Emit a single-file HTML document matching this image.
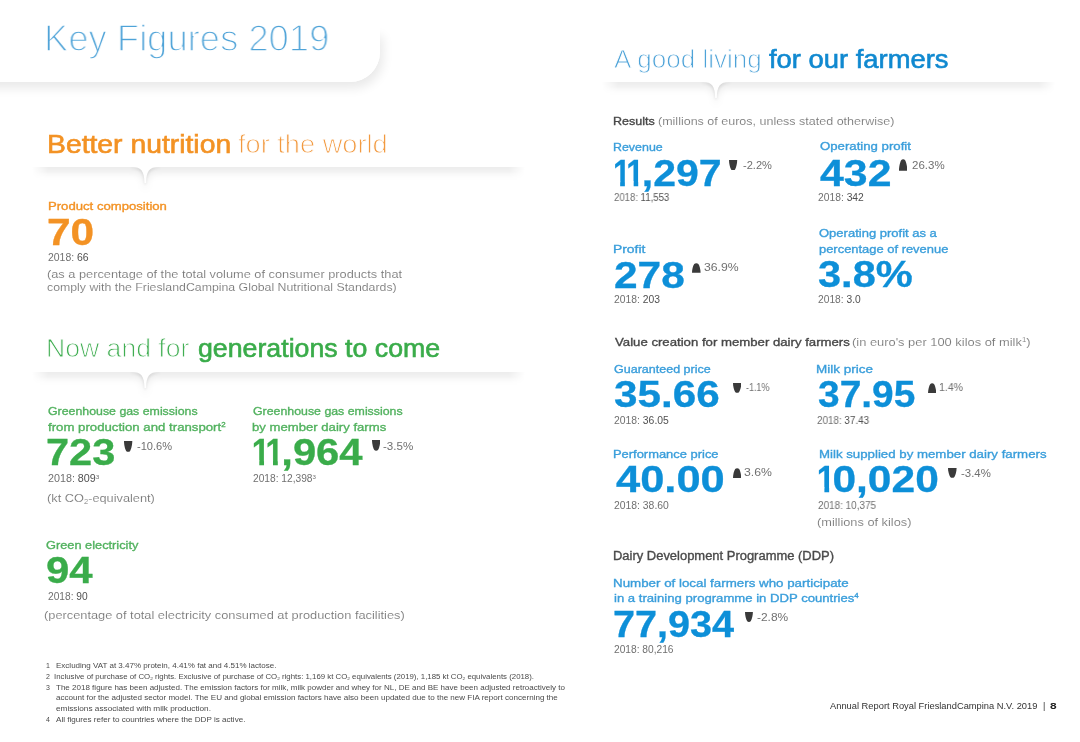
<!DOCTYPE html>
<html><head><meta charset="utf-8"><style>
html,body{margin:0;padding:0;background:#fff;}
body{width:1080px;height:742px;position:relative;overflow:hidden;font-family:"Liberation Sans",sans-serif;}
.t{position:absolute;white-space:nowrap;line-height:1;transform-origin:0 0;z-index:3;will-change:transform;}
.t sup{font-size:0.6em;vertical-align:0;position:relative;top:-0.55em;}
.t sub{font-size:0.6em;vertical-align:0;position:relative;top:0.3em;}
.pv{color:#505050;}
.title{-webkit-text-stroke:1.5px #fff;}
.hl{-webkit-text-stroke:0.9px #fff;}
.light{-webkit-text-stroke:0.12px #fff;}
.hb{font-weight:400!important;-webkit-text-stroke:0.6px currentColor;}
.one{display:inline-block;clip-path:polygon(0 0,0.375em 0,0.375em 100%,0.228em 100%,0.228em 0.69em,0 0.69em);transform:scaleX(0.78);transform-origin:0 0;margin-left:-0.033em;margin-right:-0.185em;}
.num{-webkit-text-stroke:0.3px currentColor;}
.lab{font-weight:400!important;-webkit-text-stroke:0.35px currentColor;}
.ar{position:absolute;z-index:3;}
.div{position:absolute;z-index:1;overflow:visible;}
.card{position:absolute;left:-40px;top:-40px;width:420px;height:122px;background:#fff;border-bottom-right-radius:30px;z-index:2;}
.cardsh{position:absolute;left:-40px;top:30px;width:420px;height:52px;background:#fff;border-bottom-right-radius:30px;box-shadow:3px 6px 11px rgba(0,0,0,0.09);z-index:1;}
</style></head><body>
<div class="cardsh"></div><div class="card"></div>
<svg class="div" style="left:22px;top:147px;width:513px;height:50px" viewBox="0 0 513 50">
<defs>
<linearGradient id="hf1" x1="0" x2="1"><stop offset="0.0195" stop-color="#fff" stop-opacity="0"/><stop offset="0.0507" stop-color="#fff" stop-opacity="1"/><stop offset="0.9493" stop-color="#fff" stop-opacity="1"/><stop offset="0.9805" stop-color="#fff" stop-opacity="0"/></linearGradient>
<mask id="m1"><rect x="0" y="0" width="513" height="50" fill="url(#hf1)"/></mask>
<filter id="f1" x="-10%" y="-100%" width="120%" height="300%"><feGaussianBlur stdDeviation="3.5"/></filter>
<filter id="g1" x="-10%" y="-100%" width="120%" height="300%"><feGaussianBlur stdDeviation="1.6"/></filter>
<radialGradient id="rg1" cx="123.30000000000001" cy="26" r="18" gradientUnits="userSpaceOnUse"><stop offset="0.4" stop-color="#fff"/><stop offset="1" stop-color="#000"/></radialGradient>
<mask id="mn1"><rect x="0" y="0" width="513" height="50" fill="url(#rg1)"/></mask>
</defs>
<g mask="url(#m1)">
<path d="M-50,-50 L563,-50 L563,20 L136.3,20 C127.30000000000001,20 124.30000000000001,24 124.10000000000001,36 L122.50000000000001,36 C122.30000000000001,24 119.30000000000001,20 110.30000000000001,20 L-50,20 Z" transform="translate(0,6)" fill="#000" fill-opacity="0.075" filter="url(#f1)"/>
<path d="M-50,-50 L563,-50 L563,20 L136.3,20 C127.30000000000001,20 124.30000000000001,24 124.10000000000001,36 L122.50000000000001,36 C122.30000000000001,24 119.30000000000001,20 110.30000000000001,20 L-50,20 Z" transform="translate(0,2)" fill="#000" fill-opacity="0.10" filter="url(#g1)" mask="url(#mn1)"/>
<path d="M-50,-50 L563,-50 L563,20 L136.3,20 C127.30000000000001,20 124.30000000000001,24 124.10000000000001,36 L122.50000000000001,36 C122.30000000000001,24 119.30000000000001,20 110.30000000000001,20 L-50,20 Z" fill="#fff"/>
</g>
</svg>
<svg class="div" style="left:22px;top:352px;width:513px;height:50px" viewBox="0 0 513 50">
<defs>
<linearGradient id="hf2" x1="0" x2="1"><stop offset="0.0195" stop-color="#fff" stop-opacity="0"/><stop offset="0.0507" stop-color="#fff" stop-opacity="1"/><stop offset="0.9493" stop-color="#fff" stop-opacity="1"/><stop offset="0.9805" stop-color="#fff" stop-opacity="0"/></linearGradient>
<mask id="m2"><rect x="0" y="0" width="513" height="50" fill="url(#hf2)"/></mask>
<filter id="f2" x="-10%" y="-100%" width="120%" height="300%"><feGaussianBlur stdDeviation="3.5"/></filter>
<filter id="g2" x="-10%" y="-100%" width="120%" height="300%"><feGaussianBlur stdDeviation="1.6"/></filter>
<radialGradient id="rg2" cx="123.30000000000001" cy="26" r="18" gradientUnits="userSpaceOnUse"><stop offset="0.4" stop-color="#fff"/><stop offset="1" stop-color="#000"/></radialGradient>
<mask id="mn2"><rect x="0" y="0" width="513" height="50" fill="url(#rg2)"/></mask>
</defs>
<g mask="url(#m2)">
<path d="M-50,-50 L563,-50 L563,20 L136.3,20 C127.30000000000001,20 124.30000000000001,24 124.10000000000001,36 L122.50000000000001,36 C122.30000000000001,24 119.30000000000001,20 110.30000000000001,20 L-50,20 Z" transform="translate(0,6)" fill="#000" fill-opacity="0.075" filter="url(#f2)"/>
<path d="M-50,-50 L563,-50 L563,20 L136.3,20 C127.30000000000001,20 124.30000000000001,24 124.10000000000001,36 L122.50000000000001,36 C122.30000000000001,24 119.30000000000001,20 110.30000000000001,20 L-50,20 Z" transform="translate(0,2)" fill="#000" fill-opacity="0.10" filter="url(#g2)" mask="url(#mn2)"/>
<path d="M-50,-50 L563,-50 L563,20 L136.3,20 C127.30000000000001,20 124.30000000000001,24 124.10000000000001,36 L122.50000000000001,36 C122.30000000000001,24 119.30000000000001,20 110.30000000000001,20 L-50,20 Z" fill="#fff"/>
</g>
</svg>
<svg class="div" style="left:592px;top:61.5px;width:473px;height:50px" viewBox="0 0 473 50">
<defs>
<linearGradient id="hf3" x1="0" x2="1"><stop offset="0.0211" stop-color="#fff" stop-opacity="0"/><stop offset="0.0550" stop-color="#fff" stop-opacity="1"/><stop offset="0.9450" stop-color="#fff" stop-opacity="1"/><stop offset="0.9789" stop-color="#fff" stop-opacity="0"/></linearGradient>
<mask id="m3"><rect x="0" y="0" width="473" height="50" fill="url(#hf3)"/></mask>
<filter id="f3" x="-10%" y="-100%" width="120%" height="300%"><feGaussianBlur stdDeviation="3.5"/></filter>
<filter id="g3" x="-10%" y="-100%" width="120%" height="300%"><feGaussianBlur stdDeviation="1.6"/></filter>
<radialGradient id="rg3" cx="124" cy="26.0" r="18" gradientUnits="userSpaceOnUse"><stop offset="0.4" stop-color="#fff"/><stop offset="1" stop-color="#000"/></radialGradient>
<mask id="mn3"><rect x="0" y="0" width="473" height="50" fill="url(#rg3)"/></mask>
</defs>
<g mask="url(#m3)">
<path d="M-50,-50 L523,-50 L523,20.0 L137,20.0 C128,20.0 125,24.0 124.8,36.0 L123.2,36.0 C123,24.0 120,20.0 111,20.0 L-50,20.0 Z" transform="translate(0,6)" fill="#000" fill-opacity="0.075" filter="url(#f3)"/>
<path d="M-50,-50 L523,-50 L523,20.0 L137,20.0 C128,20.0 125,24.0 124.8,36.0 L123.2,36.0 C123,24.0 120,20.0 111,20.0 L-50,20.0 Z" transform="translate(0,2)" fill="#000" fill-opacity="0.10" filter="url(#g3)" mask="url(#mn3)"/>
<path d="M-50,-50 L523,-50 L523,20.0 L137,20.0 C128,20.0 125,24.0 124.8,36.0 L123.2,36.0 C123,24.0 120,20.0 111,20.0 L-50,20.0 Z" fill="#fff"/>
</g>
</svg>
<svg class="ar" style="left:124.3px;top:440.6px;width:8.3px;height:11.1px" viewBox="0 0 10 13" preserveAspectRatio="none"><path d="M0,0 L10,0 C10,4 8.8,9.5 7.4,11.6 C6.4,13.1 3.6,13.1 2.6,11.6 C1.2,9.5 0,4 0,0 Z" fill="#3a3a3a"/></svg>
<svg class="ar" style="left:371.5px;top:440.0px;width:8.3px;height:11.0px" viewBox="0 0 10 13" preserveAspectRatio="none"><path d="M0,0 L10,0 C10,4 8.8,9.5 7.4,11.6 C6.4,13.1 3.6,13.1 2.6,11.6 C1.2,9.5 0,4 0,0 Z" fill="#3a3a3a"/></svg>
<svg class="ar" style="left:729.4px;top:159.5px;width:8.2px;height:10.7px" viewBox="0 0 10 13" preserveAspectRatio="none"><path d="M0,0 L10,0 C10,4 8.8,9.5 7.4,11.6 C6.4,13.1 3.6,13.1 2.6,11.6 C1.2,9.5 0,4 0,0 Z" fill="#3a3a3a"/></svg>
<svg class="ar" style="left:899.2px;top:159.3px;width:8.3px;height:11.7px" viewBox="0 0 10 13" preserveAspectRatio="none"><path d="M0,13 L10,13 C10,9 8.8,3.5 7.4,1.4 C6.4,-0.1 3.6,-0.1 2.6,1.4 C1.2,3.5 0,9 0,13 Z" fill="#3a3a3a"/></svg>
<svg class="ar" style="left:692.4px;top:263.4px;width:8.6px;height:9.8px" viewBox="0 0 10 13" preserveAspectRatio="none"><path d="M0,13 L10,13 C10,9 8.8,3.5 7.4,1.4 C6.4,-0.1 3.6,-0.1 2.6,1.4 C1.2,3.5 0,9 0,13 Z" fill="#3a3a3a"/></svg>
<svg class="ar" style="left:732.5px;top:383.0px;width:8.3px;height:10.0px" viewBox="0 0 10 13" preserveAspectRatio="none"><path d="M0,0 L10,0 C10,4 8.8,9.5 7.4,11.6 C6.4,13.1 3.6,13.1 2.6,11.6 C1.2,9.5 0,4 0,0 Z" fill="#3a3a3a"/></svg>
<svg class="ar" style="left:927.5px;top:382.5px;width:8.3px;height:10.8px" viewBox="0 0 10 13" preserveAspectRatio="none"><path d="M0,13 L10,13 C10,9 8.8,3.5 7.4,1.4 C6.4,-0.1 3.6,-0.1 2.6,1.4 C1.2,3.5 0,9 0,13 Z" fill="#3a3a3a"/></svg>
<svg class="ar" style="left:733.0px;top:468.0px;width:8.3px;height:10.3px" viewBox="0 0 10 13" preserveAspectRatio="none"><path d="M0,13 L10,13 C10,9 8.8,3.5 7.4,1.4 C6.4,-0.1 3.6,-0.1 2.6,1.4 C1.2,3.5 0,9 0,13 Z" fill="#3a3a3a"/></svg>
<svg class="ar" style="left:948.4px;top:468.2px;width:8.6px;height:10.0px" viewBox="0 0 10 13" preserveAspectRatio="none"><path d="M0,0 L10,0 C10,4 8.8,9.5 7.4,11.6 C6.4,13.1 3.6,13.1 2.6,11.6 C1.2,9.5 0,4 0,0 Z" fill="#3a3a3a"/></svg>
<svg class="ar" style="left:745.1px;top:612.4px;width:7.9px;height:10.1px" viewBox="0 0 10 13" preserveAspectRatio="none"><path d="M0,0 L10,0 C10,4 8.8,9.5 7.4,11.6 C6.4,13.1 3.6,13.1 2.6,11.6 C1.2,9.5 0,4 0,0 Z" fill="#3a3a3a"/></svg>
<div id="t0" class="t title" style="left:44.06px;top:20.30px;font-size:37px;font-weight:400;color:#4ea3d8;transform:scaleX(0.9838);">Key Figures 2019</div>
<div id="t1" class="t hb" style="left:46.78px;top:131.70px;font-size:25.5px;font-weight:700;color:#f39224;transform:scaleX(1.1104);">Better nutrition</div>
<div id="t2" class="t hl" style="left:237.80px;top:131.70px;font-size:25.5px;font-weight:400;color:#f29a40;transform:scaleX(1.0667);">for the world</div>
<div id="t3" class="t lab" style="left:47.72px;top:199.90px;font-size:11.6px;font-weight:700;color:#f39224;transform:scaleX(1.1320);">Product composition</div>
<div id="t4" class="t num" style="left:47.40px;top:214.90px;font-size:36.5px;font-weight:700;color:#f39224;transform:scaleX(1.1632);">70</div>
<div id="t5" class="t " style="left:48.00px;top:252.50px;font-size:10.2px;font-weight:400;color:#707070;transform:scaleX(1.0256);">2018: <span class="pv">66</span></div>
<div id="t6" class="t light" style="left:47.49px;top:269.20px;font-size:11px;font-weight:400;color:#767676;transform:scaleX(1.1613);">(as a percentage of the total volume of consumer products that</div>
<div id="t7" class="t light" style="left:47.44px;top:281.70px;font-size:11px;font-weight:400;color:#767676;transform:scaleX(1.1192);">comply with the FrieslandCampina Global Nutritional Standards)</div>
<div id="t8" class="t hl" style="left:46.05px;top:336.00px;font-size:25.5px;font-weight:400;color:#40ae52;transform:scaleX(1.0429);">Now and for</div>
<div id="t9" class="t hb" style="left:197.95px;top:336.00px;font-size:25.5px;font-weight:700;color:#3aac4a;transform:scaleX(1.0480);">generations to come</div>
<div id="t10" class="t lab" style="left:47.83px;top:405.00px;font-size:11.6px;font-weight:700;color:#52b25f;transform:scaleX(1.0650);">Greenhouse gas emissions</div>
<div id="t11" class="t lab" style="left:47.86px;top:421.00px;font-size:11.6px;font-weight:700;color:#52b25f;transform:scaleX(1.1385);">from production and transport<sup>2</sup></div>
<div id="t12" class="t num" style="left:46.43px;top:434.70px;font-size:36.5px;font-weight:700;color:#3aac4a;transform:scaleX(1.1390);">723</div>
<div id="t13" class="t " style="left:136.60px;top:440.90px;font-size:11px;font-weight:400;color:#707070;transform:scaleX(1.0059);">-10.6%</div>
<div id="t14" class="t " style="left:47.82px;top:473.70px;font-size:10.2px;font-weight:400;color:#707070;transform:scaleX(1.0542);">2018: <span class="pv">809</span><sup>3</sup></div>
<div id="t15" class="t light" style="left:46.70px;top:493.00px;font-size:11px;font-weight:400;color:#767676;transform:scaleX(1.1604);">(kt CO<sub>2</sub>-equivalent)</div>
<div id="t16" class="t lab" style="left:252.83px;top:405.00px;font-size:11.6px;font-weight:700;color:#52b25f;transform:scaleX(1.0650);">Greenhouse gas emissions</div>
<div id="t17" class="t lab" style="left:251.65px;top:421.00px;font-size:11.6px;font-weight:700;color:#52b25f;transform:scaleX(1.1322);">by member dairy farms</div>
<div id="t18" class="t num" style="left:252.50px;top:435.00px;font-size:36.5px;font-weight:700;color:#3aac4a;transform:scaleX(1.1442);"><span class="one">1</span><span class="one">1</span>,964</div>
<div id="t19" class="t " style="left:382.97px;top:440.90px;font-size:11px;font-weight:400;color:#707070;transform:scaleX(1.0536);">-3.5%</div>
<div id="t20" class="t " style="left:252.80px;top:473.70px;font-size:10.2px;font-weight:400;color:#707070;transform:scaleX(0.9937);">2018: 12,398<sup>3</sup></div>
<div id="t21" class="t lab" style="left:46.42px;top:539.20px;font-size:11.6px;font-weight:700;color:#52b25f;transform:scaleX(1.1024);">Green electricity</div>
<div id="t22" class="t num" style="left:46.07px;top:553.40px;font-size:36.5px;font-weight:700;color:#3aac4a;transform:scaleX(1.1475);">94</div>
<div id="t23" class="t " style="left:47.80px;top:592.00px;font-size:10.2px;font-weight:400;color:#707070;transform:scaleX(0.9897);">2018: <span class="pv">90</span></div>
<div id="t24" class="t light" style="left:43.97px;top:609.70px;font-size:11px;font-weight:400;color:#767676;transform:scaleX(1.1636);">(percentage of total electricity consumed at production facilities)</div>
<div id="t25" class="t fn" style="left:45.60px;top:662.10px;font-size:7px;font-weight:400;color:#4a4a4a;">1</div>
<div id="t26" class="t fn" style="left:55.64px;top:662.10px;font-size:7px;font-weight:400;color:#4a4a4a;transform:scaleX(1.1443);">Excluding VAT at 3.47% protein, 4.41% fat and 4.51% lactose.</div>
<div id="t27" class="t fn" style="left:45.60px;top:672.80px;font-size:7px;font-weight:400;color:#4a4a4a;">2</div>
<div id="t28" class="t fn" style="left:54.44px;top:672.80px;font-size:7px;font-weight:400;color:#4a4a4a;transform:scaleX(1.1182);">Inclusive of purchase of CO<sub>2</sub> rights. Exclusive of purchase of CO<sub>2</sub> rights: 1,169 kt CO<sub>2</sub> equivalents (2019), 1,185 kt CO<sub>2</sub> equivalents (2018).</div>
<div id="t29" class="t fn" style="left:45.60px;top:683.50px;font-size:7px;font-weight:400;color:#4a4a4a;">3</div>
<div id="t30" class="t fn" style="left:55.64px;top:683.50px;font-size:7px;font-weight:400;color:#4a4a4a;transform:scaleX(1.1457);">The 2018 figure has been adjusted. The emission factors for milk, milk powder and whey for NL, DE and BE have been adjusted retroactively to</div>
<div id="t31" class="t fn" style="left:55.65px;top:694.20px;font-size:7px;font-weight:400;color:#4a4a4a;transform:scaleX(1.1507);">account for the adjusted sector model. The EU and global emission factors have also been updated due to the new FIA report concerning the</div>
<div id="t32" class="t fn" style="left:55.65px;top:704.90px;font-size:7px;font-weight:400;color:#4a4a4a;transform:scaleX(1.1746);">emissions associated with milk production.</div>
<div id="t33" class="t fn" style="left:45.60px;top:715.60px;font-size:7px;font-weight:400;color:#4a4a4a;">4</div>
<div id="t34" class="t fn" style="left:55.65px;top:715.60px;font-size:7px;font-weight:400;color:#4a4a4a;transform:scaleX(1.1577);">All figures refer to countries where the DDP is active.</div>
<div id="t35" class="t hl" style="left:614.00px;top:46.00px;font-size:26px;font-weight:400;color:#4ea3d8;transform:scaleX(1.0021);">A good living</div>
<div id="t36" class="t hb" style="left:769.00px;top:46.00px;font-size:26px;font-weight:700;color:#1089d0;transform:scaleX(1.0529);">for our farmers</div>
<div id="t37" class="t lab" style="left:613.09px;top:114.60px;font-size:11.6px;font-weight:700;color:#484848;transform:scaleX(1.0811);">Results</div>
<div id="t38" class="t light" style="left:658.44px;top:115.60px;font-size:11px;font-weight:400;color:#767676;transform:scaleX(1.1369);">(millions of euros, unless stated otherwise)</div>
<div id="t39" class="t lab" style="left:613.10px;top:140.60px;font-size:11.6px;font-weight:700;color:#3a9edb;transform:scaleX(1.0711);">Revenue</div>
<div id="t40" class="t num" style="left:614.24px;top:155.70px;font-size:36.5px;font-weight:700;color:#0d8fd8;transform:scaleX(1.1234);"><span class="one">1</span><span class="one">1</span>,297</div>
<div id="t41" class="t " style="left:742.60px;top:159.70px;font-size:11px;font-weight:400;color:#707070;transform:scaleX(1.0071);">-2.2%</div>
<div id="t42" class="t " style="left:614.39px;top:193.00px;font-size:10.2px;font-weight:400;color:#707070;transform:scaleX(0.9397);">2018: <span class="pv">11,553</span></div>
<div id="t43" class="t lab" style="left:819.64px;top:140.20px;font-size:11.6px;font-weight:700;color:#3a9edb;transform:scaleX(1.1375);">Operating profit</div>
<div id="t44" class="t num" style="left:820.00px;top:155.70px;font-size:36.5px;font-weight:700;color:#0d8fd8;transform:scaleX(1.1733);">432</div>
<div id="t45" class="t " style="left:911.59px;top:159.90px;font-size:11px;font-weight:400;color:#707070;transform:scaleX(1.0452);">26.3%</div>
<div id="t46" class="t " style="left:817.99px;top:192.60px;font-size:10.2px;font-weight:400;color:#707070;transform:scaleX(1.0111);">2018: <span class="pv">342</span></div>
<div id="t47" class="t lab" style="left:612.93px;top:242.50px;font-size:11.6px;font-weight:700;color:#3a9edb;transform:scaleX(1.1962);">Profit</div>
<div id="t48" class="t num" style="left:614.19px;top:258.00px;font-size:36.5px;font-weight:700;color:#0d8fd8;transform:scaleX(1.1627);">278</div>
<div id="t49" class="t " style="left:703.89px;top:262.30px;font-size:11px;font-weight:400;color:#707070;transform:scaleX(1.1100);">36.9%</div>
<div id="t50" class="t " style="left:614.40px;top:295.40px;font-size:10.2px;font-weight:400;color:#707070;transform:scaleX(1.0133);">2018: <span class="pv">203</span></div>
<div id="t51" class="t lab" style="left:819.42px;top:227.00px;font-size:11.6px;font-weight:700;color:#3a9edb;transform:scaleX(1.1219);">Operating profit as a</div>
<div id="t52" class="t lab" style="left:819.42px;top:242.60px;font-size:11.6px;font-weight:700;color:#3a9edb;transform:scaleX(1.1147);">percentage of revenue</div>
<div id="t53" class="t num" style="left:818.01px;top:257.40px;font-size:36.5px;font-weight:700;color:#0d8fd8;transform:scaleX(1.1390);">3.8%</div>
<div id="t54" class="t " style="left:818.00px;top:295.30px;font-size:10.2px;font-weight:400;color:#707070;transform:scaleX(1.0048);">2018: <span class="pv">3.0</span></div>
<div id="t55" class="t lab" style="left:614.64px;top:336.00px;font-size:11.6px;font-weight:700;color:#484848;transform:scaleX(1.1364);">Value creation for member dairy farmers</div>
<div id="t56" class="t light" style="left:852.48px;top:337.00px;font-size:11px;font-weight:400;color:#767676;transform:scaleX(1.1702);">(in euro's per 100 kilos of milk<sup>1</sup>)</div>
<div id="t57" class="t lab" style="left:614.38px;top:363.00px;font-size:11.6px;font-weight:700;color:#3a9edb;transform:scaleX(1.0798);">Guaranteed price</div>
<div id="t58" class="t num" style="left:614.49px;top:377.00px;font-size:36.5px;font-weight:700;color:#0d8fd8;transform:scaleX(1.1573);">35.66</div>
<div id="t59" class="t " style="left:745.54px;top:382.30px;font-size:11px;font-weight:400;color:#707070;transform:scaleX(0.8107);">-1.1%</div>
<div id="t60" class="t " style="left:614.40px;top:415.70px;font-size:10.2px;font-weight:400;color:#707070;transform:scaleX(1.0185);">2018: <span class="pv">36.05</span></div>
<div id="t61" class="t lab" style="left:815.76px;top:363.00px;font-size:11.6px;font-weight:700;color:#3a9edb;transform:scaleX(1.1625);">Milk price</div>
<div id="t62" class="t num" style="left:817.55px;top:377.00px;font-size:36.5px;font-weight:700;color:#0d8fd8;transform:scaleX(1.0656);">37.95</div>
<div id="t63" class="t " style="left:939.04px;top:382.30px;font-size:11px;font-weight:400;color:#707070;transform:scaleX(0.9583);">1.4%</div>
<div id="t64" class="t " style="left:817.02px;top:415.70px;font-size:10.2px;font-weight:400;color:#707070;transform:scaleX(0.9667);">2018: <span class="pv">37.43</span></div>
<div id="t65" class="t lab" style="left:613.25px;top:448.00px;font-size:11.6px;font-weight:700;color:#3a9edb;transform:scaleX(1.1140);">Performance price</div>
<div id="t66" class="t num" style="left:615.66px;top:462.00px;font-size:36.5px;font-weight:700;color:#0d8fd8;transform:scaleX(1.1911);">40.00</div>
<div id="t67" class="t " style="left:743.89px;top:467.30px;font-size:11px;font-weight:400;color:#707070;transform:scaleX(1.1125);">3.6%</div>
<div id="t68" class="t " style="left:614.40px;top:500.70px;font-size:10.2px;font-weight:400;color:#707070;transform:scaleX(1.0185);">2018: 38.60</div>
<div id="t69" class="t lab" style="left:818.50px;top:448.00px;font-size:11.6px;font-weight:700;color:#3a9edb;transform:scaleX(1.1429);">Milk supplied by member dairy farmers</div>
<div id="t70" class="t num" style="left:818.19px;top:462.00px;font-size:36.5px;font-weight:700;color:#0d8fd8;transform:scaleX(1.1647);"><span class="one">1</span>0,020</div>
<div id="t71" class="t " style="left:961.19px;top:468.00px;font-size:11px;font-weight:400;color:#707070;transform:scaleX(1.0357);">-3.4%</div>
<div id="t72" class="t " style="left:818.01px;top:501.00px;font-size:10.2px;font-weight:400;color:#707070;transform:scaleX(0.9746);">2018: 10,375</div>
<div id="t73" class="t light" style="left:816.76px;top:517.10px;font-size:11px;font-weight:400;color:#767676;transform:scaleX(1.1612);">(millions of kilos)</div>
<div id="t74" class="t lab" style="left:613.13px;top:549.90px;font-size:12.3px;font-weight:400;color:#4a4a4a;transform:scaleX(1.0534);">Dairy Development Programme (DDP)</div>
<div id="t75" class="t lab" style="left:612.99px;top:577.10px;font-size:11.6px;font-weight:700;color:#3a9edb;transform:scaleX(1.1505);">Number of local farmers who participate</div>
<div id="t76" class="t lab" style="left:614.15px;top:592.30px;font-size:11.6px;font-weight:700;color:#3a9edb;transform:scaleX(1.1315);">in a training programme in DDP countries<sup>4</sup></div>
<div id="t77" class="t num" style="left:613.08px;top:607.00px;font-size:36.5px;font-weight:700;color:#0d8fd8;transform:scaleX(1.0847);">77,934</div>
<div id="t78" class="t " style="left:757.21px;top:611.80px;font-size:11px;font-weight:400;color:#707070;transform:scaleX(1.0857);">-2.8%</div>
<div id="t79" class="t " style="left:614.20px;top:644.80px;font-size:10.2px;font-weight:400;color:#707070;">2018: 80,216</div>
<div id="t80" class="t foot" style="left:829.61px;top:702.40px;font-size:9px;font-weight:400;color:#333;transform:scaleX(1.0355);">Annual Report Royal FrieslandCampina N.V. 2019</div>
<div id="t81" class="t foot" style="left:1042.50px;top:702.40px;font-size:9px;font-weight:400;color:#333;">|</div>
<div id="t82" class="t foot" style="left:1050.00px;top:702.40px;font-size:9px;font-weight:700;color:#222;transform:scaleX(1.3200);">8</div>
</body></html>
